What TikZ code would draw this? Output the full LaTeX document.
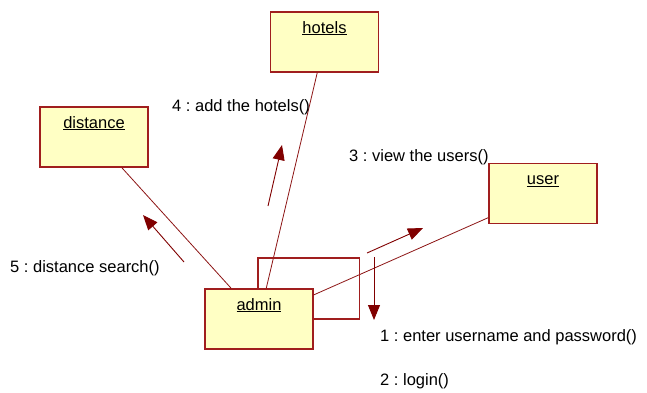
\documentclass[tikz,border=0pt]{standalone}
\usepackage{fontspec}
\setmainfont{Liberation Sans}
\frenchspacing
\usetikzlibrary{arrows.meta}
\definecolor{boxrand}{RGB}{160,30,30}
\definecolor{boxgelb}{RGB}{255,255,196}
\definecolor{linkrot}{RGB}{140,20,20}
\definecolor{pfeilrot}{RGB}{128,0,0}
\tikzset{
  obj/.style={draw=boxrand, fill=boxgelb, line width=1.3pt, minimum width=108pt,
    minimum height=60pt, inner sep=0pt, text height=21pt, text depth=39pt,
    font=\fontsize{16.5}{19}\selectfont},
  link/.style={linkrot, line width=0.8pt},
  schleife/.style={boxrand, line width=1.4pt},
  msg/.style={pfeilrot, line width=0.9pt, -{Triangle[length=15pt,width=12pt]}},
  msgtext/.style={anchor=west, inner sep=0pt, font=\fontsize{16.5}{19}\selectfont}
}
\begin{document}
\begin{tikzpicture}[x=1pt,y=-1pt]
        \useasboundingbox (0,0) rectangle (647,392);
        % Objekte
        \node[obj] (hotels) at (324.5,42) {\underline{hotels}};
        \node[obj] (distance) at (94,137) {\underline{distance}};
        \node[obj] (user) at (543,193.5) {\underline{user}};
        \node[obj] (admin) at (259,319) {\underline{admin}};
        % Verbindungen
        \draw[link] (distance) -- (admin);
        \draw[link] (hotels) -- (admin);
        \draw[link] (user) -- (admin);
        \draw[schleife] (admin.north west) ++(53.5,0) -- ++(0,-30.5) -| ([xshift=46pt]admin.east) -- (admin.east);
        % Nachrichten
        \draw[msg] (374,257) -- (374,320);
        \node[msgtext] (m1) at (380,337) {1 : enter username and password()};
        \node[msgtext] (m2) at (380,381) {2 : login()};
        \draw[msg] (367,253) -- (423,228);
        \node[msgtext] (m3) at (349,157) {3 : view the users()};
        \draw[msg] (268,206) -- (282,145);
        \node[msgtext] (m4) at (172,107) {4 : add the hotels()};
        \draw[msg] (184,262) -- (143,215);
        \node[msgtext] (m5) at (10,268) {5 : distance search()};
    \end{tikzpicture}
\end{document}
